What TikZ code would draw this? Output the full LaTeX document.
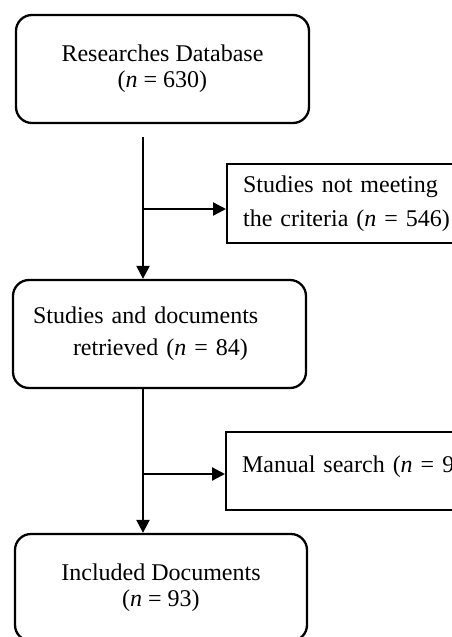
\documentclass[tikz,border=0pt]{standalone}
\usepackage{fontspec}
\setmainfont{Liberation Serif}
\usetikzlibrary{arrows.meta}
\begin{document}
\begin{tikzpicture}[x=1pt,y=1pt,
  txt/.style={font=\fontsize{24}{26}\selectfont},
  rbox/.style={txt, draw, line width=2.3pt, rounded corners=16pt, minimum width=293pt, minimum height=108pt, align=center, inner sep=0pt},
  sbox/.style={txt, draw, line width=2.3pt, anchor=west, align=left, inner xsep=16pt, inner ysep=0pt, minimum width=260pt, text width=228pt},
  conn/.style={line width=2.3pt, -{Triangle[length=13pt,width=13pt]}}]
\useasboundingbox (0,0) rectangle (452,-637);
\clip (0,0) rectangle (452,-637);
\node[rbox] (db) at (162.5,-69) {Researches Database\\(\textit{n} = 630)};
\node[rbox, align=left, text width=253pt, font=\fontsize{24}{32}\selectfont] (ret) at (159.5,-334) {Studies and documents\\\hspace*{40pt}retrieved (\textit{n} = 84)};
\node[rbox, minimum width=292pt, minimum height=107pt] (inc) at (161,-587.5) {Included Documents\\(\textit{n} = 93)};
\node[sbox, minimum height=79pt, font=\fontsize{24}{34}\selectfont] (crit) at (226,-203.5) {Studies not meeting\\the criteria (\textit{n} = 546)};
\node[sbox, minimum height=78pt, text height=17pt, text depth=15pt] (man) at (225,-471) {Manual search (\textit{n} = 9)};
\coordinate (s1) at (143,-137);
\coordinate (j1) at (143,-209);
\coordinate (j2) at (143,-474);
\draw[conn] (s1) -- (s1 |- ret.north);
\draw[conn] (j1) -- (j1 -| crit.west);
\draw[conn] (ret.south -| s1) -- (inc.north -| s1);
\draw[conn] (j2) -- (j2 -| man.west);
\end{tikzpicture}
\end{document}
